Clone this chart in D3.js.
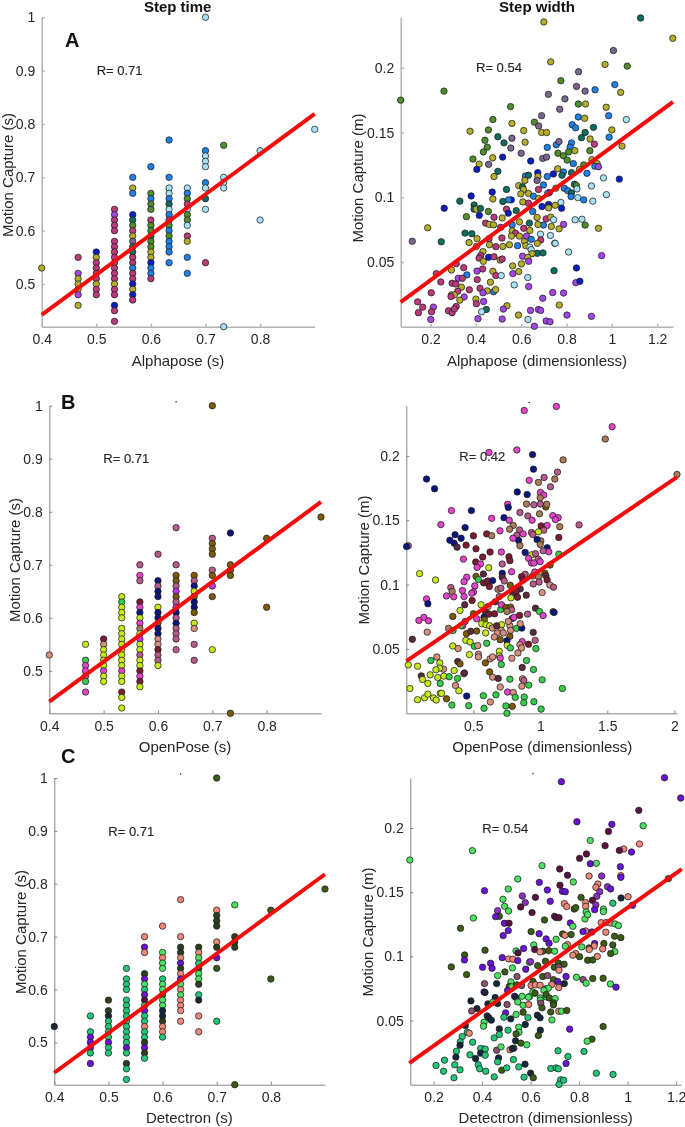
<!DOCTYPE html>
<html>
<head>
<meta charset="utf-8">
<script src="https://cdn.jsdelivr.net/npm/d3@7"></script>
<style>
  html, body { margin: 0; padding: 0; background: #fff; }
  svg { display: block; filter: blur(0.3px); }
  text { font-family: "Liberation Sans", Arial, sans-serif; fill: #262626; }
</style>
</head>
<body>
<svg id="drawing_region"></svg>
<script>
// step time: one row per alphapose/openpose/detectron value -> [x, motion capture values, group letters]
const timeA = [
  [0.4, [.53], "Y"],
  [0.4667, [.55, .52, .51, .50, .49, .48, .46], "RVYYYVY"],
  [0.5, [.56, .55, .54, .53, .52, .51, .50, .49, .48], "NYRRRRYRR"],
  [0.5333, [.64, .63, .62, .61, .60, .58, .57, .56, .55, .54, .53, .52, .51, .50, .49, .48, .46, .45, .43], "RVRRRRRRRRRRRYRRNRR"],
  [0.5667, [.70, .68, .67, .63, .62, .61, .60, .59, .58, .57, .56, .55, .54, .53, .52, .51, .50, .49, .48, .47], "BYBNTGRYPTTRRBRRNYNR"],
  [0.6, [.72, .67, .66, .65, .64, .62, .61, .60, .59, .58, .57, .56, .55, .54, .53, .52, .51], "BGBGGRGGTGGYYNBBR"],
  [0.6333, [.77, .70, .68, .67, .66, .65, .64, .63, .62, .61, .60, .59, .58, .57, .56, .54], "BBLLBTLBRGBGBBBB"],
  [0.6667, [.68, .67, .66, .65, .64, .63, .62, .61, .59, .58, .55, .52], "LBGRLGGLRYBB"],
  [0.7, [1, .75, .74, .73, .72, .69, .68, .66, .64, .54], "LBLLLBLTLR"],
  [0.7333, [.76, .70, .69, .68, .42], "GLLLL"],
  [0.8, [.75, .62], "LL"],
  [0.9, [.79], "L"],
];
const timeB = [
  [0.4, [.53], "S"],
  [0.4667, [.55, .52, .51, .50, .49, .48, .46], "YGMMMGM"],
  [0.5, [.56, .55, .54, .53, .52, .51, .50, .49, .48], "DSYYYYMYY"],
  [0.5333, [.64, .63, .62, .61, .60, .58, .57, .56, .55, .54, .53, .52, .51, .50, .49, .48, .46, .45, .43], "YGYYYYYYYYYYYMYYDYY"],
  [0.5667, [.70, .68, .67, .63, .62, .61, .60, .59, .58, .57, .56, .55, .54, .53, .52, .51, .50, .49, .48, .47], "RMRDMNYMTYVYYRYYDMDY"],
  [0.6, [.72, .67, .66, .65, .64, .62, .61, .60, .59, .58, .57, .56, .55, .54, .53, .52, .51], "RNRNNYNNONNSSDRRY"],
  [0.6333, [.77, .70, .68, .67, .66, .65, .64, .63, .62, .61, .60, .59, .58, .57, .56, .54], "RROORVORVNRNRRRR"],
  [0.6667, [.68, .67, .66, .65, .64, .63, .62, .61, .59, .58, .55, .52], "ORNYONNOYSRR"],
  [0.7, [1, .75, .74, .73, .72, .69, .68, .66, .64, .54], "OROOOROVOY"],
  [0.7333, [.76, .70, .69, .68, .42], "NOOOO"],
  [0.8, [.75, .62], "OO"],
  [0.9, [.79], "O"],
];
const timeC = [
  [0.4, [.53], "N"],
  [0.4667, [.55, .52, .51, .50, .49, .48, .46], "GGVVVGV"],
  [0.5, [.58, .56, .55, .54, .53, .52, .51, .50, .49, .48], "KKNGGGGVGG"],
  [0.5333, [.64, .62, .61, .60, .58, .57, .56, .55, .54, .53, .52, .51, .50, .49, .48, .46, .45, .43], "GGGGGGGGGGGGGVGKGG"],
  [0.5667, [.70, .68, .67, .63, .62, .61, .60, .59, .58, .57, .56, .55, .54, .53, .52, .51, .50, .49, .48, .47], "SVSKVLGVWGVGGSGGKVKG"],
  [0.6, [.72, .67, .66, .65, .64, .62, .61, .60, .59, .58, .57, .56, .55, .54, .53, .52, .51], "SLSLLGLLHLLNNKSSG"],
  [0.6333, [.77, .70, .68, .67, .66, .65, .64, .63, .62, .61, .60, .59, .58, .57, .56, .54], "SSKKSVKSVLSLSSSS"],
  [0.6667, [.68, .67, .66, .65, .64, .63, .62, .61, .59, .58, .55, .52], "KSLGKLLKGNSS"],
  [0.7, [1, .75, .74, .73, .72, .69, .68, .66, .64, .54], "HSKKKSKVHG"],
  [0.7333, [.76, .70, .69, .68, .42], "LKKKH"],
  [0.8, [.75, .62], "HH"],
  [0.9, [.79], "H"],
];

// step width: [pose estimate, motion capture, group]
const widthA = [
  [1.127,.2385,"T"],[1.269,.2228,"Y"],[.70,.2354,"Y"],[1.007,.2133,"P"],[.73,.2046,"Y"],[.97,.2026,"Y"],[1.068,.2013,"G"],[.853,.197,"P"],
  [.068,.175,"G"],[.259,.182,"G"],[.775,.19,"G"],[.844,.1856,"P"],[.882,.182,"P"],[.926,.183,"B"],[1.013,.187,"B"],[1.039,.181,"Y"],
  [.72,.1795,"P"],[.793,.176,"P"],[.852,.172,"G"],[.884,.172,"Y"],[.553,.17,"G"],[.77,.168,"P"],[.975,.1695,"Y"],[.69,.163,"P"],
  [.852,.162,"B"],[.88,.161,"Y"],[.986,.163,"B"],[1.064,.16,"L"],[.475,.16,"G"],[.658,.158,"G"],[.559,.157,"Y"],[.825,.156,"B"],
  [.84,.1536,"B"],[.677,.155,"P"],[.611,.1515,"Y"],[.455,.152,"G"],[.374,.151,"Y"],[.69,.15,"Y"],[.712,.15,"Y"],[.882,.15,"T"],
  [.919,.154,"T"],[1.0,.152,"Y"],[.497,.1467,"T"],[.559,.1456,"P"],[.44,.144,"G"],[.866,.146,"T"],[.904,.145,"Y"],[.988,.1464,"B"],
  [.524,.142,"T"],[.617,.1425,"Y"],[.715,.1385,"B"],[.755,.1405,"B"],[.767,.143,"P"],[.822,.142,"B"],[.45,.1387,"G"],[.554,.138,"P"],
  [.433,.135,"G"],[.816,.1387,"B"],[.837,.136,"Y"],[.809,.135,"G"],[.923,.141,"R"],[.903,.136,"G"],[1.045,.1395,"Y"],[.6,.134,"P"],
  [.762,.134,"G"],[.786,.132,"G"],[.695,.13,"P"],[.712,.131,"P"],[.387,.1295,"G"],[.474,.1305,"Y"],[.518,.131,"N"],[.642,.128,"N"],
  [.803,.1287,"G"],[.414,.1256,"Y"],[.456,.1254,"P"],[.83,.126,"B"],[.912,.129,"Y"],[.935,.126,"Y"],[.404,.1215,"N"],[.761,.122,"Y"],
  [.876,.125,"G"],[.925,.124,"B"],[.941,.1236,"V"],[.497,.12,"T"],[.673,.119,"N"],[.48,.116,"Y"],[.715,.116,"B"],[.742,.118,"N"],
  [.619,.1164,"B"],[.632,.117,"T"],[.674,.116,"Y"],[.786,.1195,"B"],[.78,.117,"T"],[.822,.119,"T"],[.857,.1215,"Y"],[.89,.1185,"B"],
  [.963,.115,"L"],[1.033,.114,"N"],[.616,.113,"Y"],[.67,.113,"P"],[.698,.1095,"B"],[.589,.109,"Y"],[.606,.108,"T"],[.835,.11,"T"],
  [.844,.109,"G"],[.753,.107,"Y"],[.91,.1087,"L"],[.79,.107,"B"],[.806,.105,"B"],[.846,.1064,"L"],[.472,.104,"N"],[.535,.106,"T"],
  [.61,.106,"Y"],[.632,.103,"Y"],[.676,.106,"R"],[.379,.101,"N"],[.475,.0987,"Y"],[.724,.1036,"N"],[.717,.103,"B"],[.654,.1008,"B"],
  [.598,.1026,"Y"],[.556,.098,"N"],[.544,.098,"B"],[.519,.0967,"T"],[.677,.099,"Y"],[.822,.1033,"T"],[.82,.1005,"B"],[.85,.0997,"L"],
  [.876,.098,"B"],[.916,.097,"L"],[.976,.102,"L"],[.392,.094,"T"],[.607,.0964,"Y"],[.632,.0954,"R"],[.721,.0944,"N"],[.692,.0928,"N"],
  [.775,.096,"L"],[.778,.0915,"N"],[.392,.0908,"T"],[.402,.0908,"Y"],[.42,.0913,"T"],[.535,.0908,"R"],[.578,.0897,"T"],[.721,.0918,"Y"],
  [.75,.0938,"Y"],[.329,.097,"T"],[.26,.0915,"N"],[.415,.086,"N"],[.455,.089,"G"],[.543,.0877,"N"],[.358,.085,"G"],[.651,.089,"B"],
  [.516,.084,"Y"],[.48,.0846,"R"],[.838,.0826,"L"],[.868,.083,"L"],[.67,.0844,"Y"],[.71,.0833,"R"],[.73,.0846,"Y"],[.743,.0826,"L"],
  [.443,.08,"R"],[.46,.079,"Y"],[.478,.0787,"Y"],[.592,.081,"Y"],[.636,.08,"T"],[.698,.0785,"B"],[.674,.079,"Y"],[.787,.079,"V"],
  [.733,.0774,"Y"],[.882,.0785,"G"],[.941,.076,"Y"],[.767,.0756,"Y"],[.187,.0764,"Y"],[.509,.0767,"R"],[.56,.0787,"B"],[.352,.0723,"T"],
  [.382,.0718,"T"],[.56,.074,"Y"],[.638,.0744,"Y"],[.611,.076,"R"],[.575,.0723,"R"],[.119,.066,"P"],[.247,.0656,"T"],[.405,.068,"Y"],
  [.37,.065,"Y"],[.458,.068,"R"],[.515,.0685,"R"],[.557,.07,"Y"],[.592,.07,"Y"],[.729,.0705,"L"],[.685,.0715,"L"],[.686,.067,"R"],
  [.748,.0644,"T"],[.75,.0644,"L"],[.614,.066,"Y"],[.623,.07,"V"],[.644,.0675,"B"],[.671,.0644,"Y"],[.46,.0633,"Y"],[.488,.0618,"R"],
  [.519,.062,"Y"],[.548,.0633,"Y"],[.584,.0626,"B"],[.62,.0626,"Y"],[.638,.0615,"L"],[.402,.062,"Y"],[.644,.0595,"L"],[.431,.058,"Y"],
  [.809,.0577,"L"],[.671,.0567,"T"],[.696,.057,"T"],[.648,.0564,"Y"],[.421,.055,"R"],[.414,.053,"R"],[.433,.0505,"Y"],[.456,.0536,"N"],
  [.48,.054,"R"],[.507,.0515,"Y"],[.516,.0523,"R"],[.606,.0544,"V"],[.629,.0536,"Y"],[.633,.0505,"V"],[.955,.0549,"V"],[.313,.0487,"R"],
  [.346,.0456,"R"],[.292,.0438,"Y"],[.562,.047,"Y"],[.601,.0485,"Y"],[.43,.0446,"R"],[.225,.041,"R"],[.405,.043,"V"],[.475,.0428,"Y"],
  [.488,.0395,"R"],[.36,.04,"B"],[.322,.0374,"V"],[.34,.0374,"R"],[.563,.041,"V"],[.589,.0426,"Y"],[.745,.0433,"T"],[.844,.0454,"N"],
  [.512,.0395,"L"],[.629,.038,"L"],[.245,.0346,"R"],[.406,.0364,"R"],[.464,.0344,"Y"],[.295,.0336,"R"],[.311,.033,"R"],[.336,.0305,"Y"],
  [.371,.0285,"R"],[.418,.0297,"R"],[.569,.0323,"L"],[.633,.031,"V"],[.841,.034,"V"],[.859,.0351,"N"],[.203,.0262,"R"],[.32,.0274,"R"],
  [.292,.0246,"Y"],[.305,.0246,"Y"],[.29,.0233,"R"],[.348,.023,"V"],[.45,.0277,"Y"],[.431,.0262,"V"],[.478,.027,"B"],[.487,.0287,"Y"],
  [.695,.022,"V"],[.739,.0264,"V"],[.787,.026,"V"],[.4,.0213,"Y"],[.329,.0205,"Y"],[.434,.0195,"V"],[.402,.0177,"R"],[.143,.0192,"R"],
  [.165,.0151,"R"],[.313,.0156,"R"],[.212,.0151,"V"],[.537,.0162,"Y"],[.521,.0136,"V"],[.768,.0167,"Y"],[.279,.0123,"R"],[.295,.0108,"R"],
  [.305,.0138,"R"],[.146,.0108,"R"],[.204,.0115,"R"],[.446,.0133,"T"],[.425,.0115,"L"],[.588,.009,"Y"],[.641,.0126,"V"],[.676,.0133,"V"],
  [.686,.0126,"V"],[.802,.009,"V"],[.91,.008,"V"],[.201,.0056,"V"],[.409,.0062,"V"],[.516,.0059,"V"],[.63,.0056,"L"],[.71,.0044,"V"],
  [.727,.0038,"V"],[.658,.0003,"V"],
];
const widthB = [
  [1.12,.2384,"M"],[.88,.2353,"M"],[1.536,.2227,"M"],[1.485,.2131,"T"],[.617,.2026,"M"],[.825,.2046,"M"],[.942,.201,"N"],[1.17,.1969,"T"],
  [.949,.1897,"N"],[2.02,.1856,"T"],[1.128,.1874,"R"],[.151,.182,"N"],[.211,.1745,"N"],[.917,.181,"M"],[.986,.1794,"T"],[1.028,.1832,"R"],
  [1.108,.182,"T"],[.828,.172,"N"],[.902,.17,"N"],[1.076,.176,"R"],[1.001,.1716,"M"],[1.026,.1696,"M"],[.999,.1675,"T"],[.486,.1575,"N"],
  [.337,.1575,"M"],[.756,.1624,"M"],[.761,.16,"N"],[.897,.1626,"T"],[.952,.162,"R"],[1.001,.1626,"R"],[1.041,.1603,"O"],[1.048,.1624,"T"],
  [.848,.156,"R"],[.994,.155,"T"],[.637,.1515,"M"],[.729,.152,"N"],[.768,.15,"M"],[.907,.1534,"R"],[.939,.15,"M"],[1.093,.1536,"M"],
  [1.133,.152,"M"],[1.113,.1505,"M"],[.258,.1466,"M"],[.439,.1443,"N"],[1.289,.1464,"R"],[1.051,.146,"M"],[1.145,.145,"T"],[1.006,.1456,"D"],
  [1.026,.1423,"R"],[.798,.146,"T"],[.771,.143,"T"],[.699,.1418,"M"],[.845,.1425,"R"],[.825,.1384,"R"],[.872,.1394,"M"],[.6,.1394,"D"],
  [.637,.138,"T"],[.501,.1379,"D"],[.364,.1387,"N"],[.325,.1345,"N"],[.409,.136,"N"],[.357,.1322,"N"],[.379,.1291,"A"],[.446,.1307,"D"],
  [.015,.1302,"R"],[.002,.1296,"N"],[.838,.1343,"N"],[.796,.136,"M"],[.934,.1405,"R"],[.944,.1389,"R"],[.986,.141,"Y"],[1.004,.134,"T"],
  [.976,.135,"N"],[.999,.1312,"T"],[.848,.1302,"T"],[1.138,.1366,"D"],[1.051,.1286,"N"],[.52,.1278,"D"],[.887,.125,"N"],[1.063,.1255,"M"],
  [1.021,.1263,"R"],[.709,.1253,"M"],[.625,.1253,"D"],[.766,.1216,"D"],[1.138,.1237,"G"],[.937,.1232,"Y"],[.964,.124,"R"],[.912,.1204,"M"],
  [.984,.1198,"R"],[.57,.1214,"D"],[.426,.1198,"M"],[.518,.1175,"D"],[.553,.116,"M"],[.999,.1178,"M"],[.934,.1168,"M"],[.952,.1168,"M"],
  [.773,.1186,"D"],[.716,.116,"R"],[1.073,.1152,"O"],[.099,.1085,"Y"],[.528,.1134,"M"],[.615,.1131,"Y"],[.786,.11,"M"],[.716,.1088,"N"],
  [.575,.1082,"A"],[.451,.1057,"M"],[.52,.1064,"O"],[.887,.108,"R"],[.218,.1036,"Y"],[.538,.1039,"G"],[.431,.1023,"M"],[.577,.1013,"D"],
  [.607,.1028,"D"],[.644,.1031,"N"],[.716,.1057,"A"],[.731,.1028,"R"],[.86,.1062,"D"],[.87,.1036,"D"],[.942,.1067,"T"],[.986,.1062,"T"],
  [.959,.1098,"M"],[1.033,.1088,"O"],[1.041,.107,"A"],[1.051,.1036,"D"],[1.071,.0997,"S"],[.991,.102,"R"],[.947,.1005,"R"],[1.098,.098,"R"],
  [1.014,.0938,"S"],[.332,.0977,"R"],[.419,.0954,"M"],[.342,.0946,"T"],[.3,.0912,"M"],[.354,.0905,"M"],[.511,.099,"M"],[.501,.0943,"M"],
  [.488,.0933,"M"],[.431,.0907,"M"],[.151,.0889,"M"],[.161,.0851,"N"],[.491,.0876,"D"],[.436,.0843,"A"],[.094,.0722,"M"],[.131,.0745,"M"],
  [.166,.0719,"M"],[.62,.0985,"D"],[.684,.0964,"T"],[.706,.0972,"R"],[.776,.0995,"O"],[.85,.0967,"A"],[.796,.0925,"A"],[.82,.0946,"D"],
  [.694,.0907,"R"],[.558,.0843,"Y"],[.664,.0866,"A"],[.781,.0897,"Y"],[.83,.0902,"D"],[.895,.0918,"A"],[.964,.0817,"A"],[.905,.0771,"R"],
  [.994,.0791,"G"],[1.021,.076,"M"],[1.095,.0789,"O"],[1.103,.0784,"N"],[.401,.0799,"Y"],[.347,.0753,"O"],[.501,.0773,"O"],[.525,.0735,"M"],
  [.58,.0747,"N"],[.59,.0791,"A"],[.617,.0771,"D"],[.659,.0773,"D"],[.704,.0807,"G"],[.711,.0843,"M"],[.743,.0822,"O"],[.778,.0825,"O"],
  [.786,.0804,"R"],[.751,.0791,"T"],[.791,.0737,"D"],[.803,.0745,"M"],[.845,.076,"D"],[.61,.083,"S"],[.439,.0714,"M"],[.421,.068,"M"],
  [.582,.0727,"O"],[.563,.0696,"Y"],[.595,.0688,"Y"],[.622,.068,"Y"],[.711,.0688,"Y"],[.823,.066,"G"],[.862,.0662,"N"],[.85,.0696,"S"],
  [.773,.068,"S"],[.761,.0714,"S"],[.592,.0624,"Y"],[.642,.0662,"S"],[.674,.068,"A"],[.709,.0644,"S"],[.679,.0624,"S"],[.657,.0593,"S"],
  [.724,.0624,"S"],[.778,.0644,"S"],[.773,.0598,"O"],[.701,.0572,"O"],[.751,.0564,"N"],[.315,.066,"T"],[.349,.0644,"G"],[.156,.0631,"S"],
  [.045,.0575,"A"],[.947,.0629,"A"],[.449,.0619,"O"],[.481,.0637,"A"],[.525,.0639,"O"],[.409,.068,"G"],[.962,.0567,"R"],[.865,.0557,"M"],
  [.444,.0567,"Y"],[.476,.0554,"Y"],[.753,.0528,"Y"],[.776,.0508,"G"],[.848,.0534,"S"],[.912,.0536,"D"],[.347,.0523,"Y"],[.387,.0503,"S"],
  [.508,.0521,"G"],[.533,.0526,"S"],[.6,.0544,"G"],[.694,.0482,"Y"],[.967,.0503,"G"],[.86,.0508,"S"],[.833,.0469,"S"],[.788,.0428,"S"],
  [.538,.0459,"S"],[.538,.0438,"S"],[.471,.0456,"Y"],[.694,.0446,"Y"],[.701,.043,"M"],[.625,.0423,"S"],[.644,.0438,"S"],[.59,.0392,"O"],
  [.897,.041,"G"],[.384,.0402,"A"],[.401,.0384,"O"],[.228,.0438,"S"],[.183,.041,"G"],[.25,.0392,"Y"],[.015,.0376,"Y"],[.084,.0366,"Y"],
  [.865,.0356,"A"],[.709,.0379,"G"],[.949,.034,"G"],[.278,.0343,"S"],[.248,.0351,"Y"],[.221,.0338,"Y"],[.357,.0332,"Y"],[.112,.0291,"A"],
  [.178,.0299,"Y"],[.121,.0263,"Y"],[.235,.0278,"Y"],[.28,.0289,"Y"],[.32,.0284,"G"],[.161,.0232,"Y"],[.253,.0232,"G"],[.429,.0307,"S"],
  [.434,.0314,"A"],[.382,.0271,"G"],[.622,.0322,"O"],[.644,.0281,"S"],[.686,.0271,"A"],[.773,.0265,"G"],[.867,.0268,"S"],[.877,.0255,"R"],
  [1.014,.026,"G"],[.914,.0219,"G"],[.862,.0211,"S"],[.701,.0204,"S"],[.756,.0165,"M"],[.798,.0162,"S"],[.367,.0216,"S"],[.392,.0175,"Y"],
  [1.165,.0193,"G"],[.027,.0193,"Y"],[.084,.0106,"Y"],[.136,.0121,"Y"],[.161,.0149,"Y"],[.203,.0119,"Y"],[.223,.0103,"Y"],[.253,.0155,"Y"],
  [.263,.0155,"Y"],[.451,.0134,"N"],[.3,.0113,"O"],[.575,.0137,"G"],[.669,.0144,"G"],[.88,.0126,"G"],[.813,.0124,"G"],[.952,.009,"G"],
  [.34,.0064,"G"],[.466,.0059,"G"],[.627,.0088,"S"],[.877,.0082,"G"],[.743,.0057,"G"],[.791,.0054,"O"],[.58,.0039,"G"],[1.006,.0033,"G"],
  [.751,0,"G"],
];
const widthC = [
  [1.152,.2392,"V"],[.727,.2361,"V"],[1.219,.2234,"V"],[1.046,.2138,"W"],[.791,.2049,"V"],[.935,.2029,"V"],[1.064,.2018,"L"],[.921,.1974,"W"],
  [.846,.1904,"L"],[.907,.1863,"W"],[1.049,.1876,"S"],[.984,.1837,"S"],[.966,.1826,"W"],[1.016,.1813,"V"],[.36,.1824,"L"],[.102,.1751,"L"],
  [.802,.1764,"W"],[.83,.1798,"W"],[.871,.1725,"L"],[.846,.1722,"V"],[.97,.1699,"V"],[.647,.1707,"L"],[.72,.1681,"W"],[.752,.1632,"W"],
  [.547,.1603,"L"],[.841,.1626,"S"],[.893,.1626,"P"],[.972,.1629,"S"],[.972,.1616,"V"],[1.168,.1606,"H"],[.636,.1577,"V"],[.776,.158,"L"],
  [.508,.1525,"L"],[.721,.1554,"W"],[.877,.1564,"S"],[.869,.1538,"S"],[.917,.1543,"P"],[.93,.1525,"V"],[.62,.146,"W"],[.669,.1517,"V"],
  [.41,.1512,"V"],[.731,.1507,"V"],[.743,.1504,"V"],[.566,.1471,"P"],[.808,.146,"H"],[.885,.1504,"P"],[.873,.1468,"P"],[.855,.1437,"W"],
  [1.002,.1465,"S"],[.973,.1455,"N"],[.681,.1429,"V"],[.578,.1419,"P"],[.559,.1385,"W"],[.486,.1445,"L"],[.493,.139,"L"],[.509,.1354,"L"],
  [.739,.1411,"S"],[.749,.1388,"S"],[.78,.1369,"H"],[.786,.138,"H"],[.827,.1419,"S"],[.827,.139,"S"],[.869,.1401,"P"],[.864,.1364,"V"],
  [.9,.1369,"L"],[.9,.1349,"L"],[.939,.1414,"G"],[1.02,.1398,"V"],[.606,.1341,"W"],[.699,.1312,"W"],[.706,.1302,"W"],[.717,.1302,"W"],
  [.464,.1356,"P"],[.471,.1312,"H"],[.456,.131,"V"],[.364,.1299,"L"],[.829,.1346,"L"],[.824,.1292,"L"],[.835,.1325,"L"],[.657,.1284,"H"],
  [.492,.1258,"V"],[.511,.1258,"W"],[.764,.126,"V"],[.774,.1234,"L"],[.891,.1263,"S"],[.911,.1263,"S"],[.93,.126,"S"],[.948,.1253,"L"],
  [.962,.124,"L"],[.827,.1198,"S"],[.91,.1188,"S"],[.816,.1193,"V"],[.853,.119,"V"],[.311,.1219,"H"],[.508,.1201,"V"],[.487,.1162,"V"],
  [.602,.1193,"H"],[.635,.1177,"V"],[.664,.1136,"V"],[.705,.1133,"L"],[.732,.1175,"H"],[.742,.1164,"S"],[.767,.117,"H"],[.676,.1102,"V"],
  [.946,.1157,"H"],[.972,.1146,"H"],[.613,.1089,"L"],[.752,.1092,"S"],[.743,.1079,"L"],[.864,.11,"V"],[.862,.1081,"S"],[.902,.11,"H"],
  [.939,.1089,"H"],[.841,.1066,"H"],[.811,.1074,"L"],[.842,.1053,"S"],[.617,.1053,"W"],[.65,.104,"H"],[.639,.1035,"S"],[.675,.1045,"H"],
  [.699,.104,"L"],[.947,.1037,"L"],[.93,.1022,"H"],[.897,.1058,"S"],[.412,.1048,"H"],[.54,.1042,"L"],[.548,.1027,"W"],[.571,.1061,"V"],
  [.328,.1011,"H"],[.483,.099,"V"],[.509,.098,"S"],[.527,.0978,"S"],[.547,.0967,"V"],[.786,.1022,"S"],[.774,.1009,"S"],[.802,.0998,"H"],
  [.835,.097,"H"],[.856,.0972,"H"],[.875,.1,"S"],[.327,.0972,"V"],[.273,.0918,"H"],[.435,.0946,"V"],[.402,.0915,"V"],[.441,.0907,"V"],
  [.525,.091,"L"],[.494,.0879,"H"],[.58,.09,"V"],[.595,.0954,"L"],[.6,.0959,"P"],[.629,.0928,"H"],[.661,.0962,"H"],[.714,.0949,"H"],
  [.738,.0939,"H"],[.698,.0915,"H"],[.716,.0918,"M"],[.717,.0892,"S"],[.336,.0858,"H"],[.464,.085,"L"],[.46,.0788,"N"],[.544,.0843,"M"],
  [.41,.0788,"M"],[.789,.0837,"L"],[.816,.0819,"M"],[.746,.0843,"V"],[.829,.0791,"L"],[.856,.0827,"H"],[.899,.083,"H"],[.929,.0785,"L"],
  [.952,.076,"V"],[.65,.0843,"H"],[.67,.085,"M"],[.694,.0819,"H"],[.712,.0804,"V"],[.719,.078,"V"],[.739,.0788,"N"],[.61,.0804,"H"],
  [.519,.0801,"L"],[.512,.0765,"H"],[.522,.0762,"L"],[.543,.0778,"H"],[.563,.0773,"M"],[.602,.0773,"S"],[.62,.0778,"S"],[.639,.0775,"S"],
  [.662,.0747,"V"],[.687,.078,"S"],[.716,.0757,"S"],[.673,.0752,"L"],[.655,.0736,"L"],[.408,.0723,"V"],[.412,.0718,"N"],[.354,.0653,"N"],
  [.454,.0679,"N"],[.424,.063,"N"],[.464,.0632,"N"],[.445,.0643,"L"],[.534,.0689,"V"],[.505,.0734,"V"],[.538,.0682,"N"],[.547,.0645,"L"],
  [.565,.0689,"L"],[.569,.0619,"L"],[.596,.0687,"L"],[.591,.0682,"L"],[.609,.0721,"L"],[.618,.0713,"H"],[.64,.0676,"L"],[.64,.0658,"L"],
  [.664,.0684,"L"],[.664,.0702,"H"],[.677,.0676,"H"],[.701,.0671,"L"],[.694,.0638,"H"],[.694,.0622,"H"],[.592,.0625,"S"],[.642,.0635,"M"],
  [.647,.0599,"H"],[.716,.0573,"S"],[.727,.0573,"L"],[.749,.0578,"H"],[.379,.0593,"N"],[.357,.0575,"M"],[.503,.0625,"M"],[.497,.056,"V"],
  [.49,.0526,"G"],[.518,.0513,"N"],[.54,.0547,"L"],[.569,.0565,"H"],[.589,.0523,"G"],[.578,.0469,"N"],[.628,.0542,"N"],[.639,.0521,"N"],
  [.688,.0505,"L"],[.683,.0567,"H"],[.421,.0536,"N"],[.428,.0521,"N"],[.438,.0503,"N"],[.408,.0487,"L"],[.406,.0456,"L"],[.761,.0433,"V"],
  [.471,.0435,"N"],[.507,.0425,"G"],[.551,.0448,"L"],[.552,.0409,"L"],[.64,.0425,"N"],[.632,.0383,"H"],[.331,.0461,"N"],[.899,.0453,"H"],
  [.853,.0355,"H"],[.833,.0339,"L"],[.339,.0409,"G"],[.347,.0401,"S"],[.318,.0375,"G"],[.31,.0334,"G"],[.309,.0308,"N"],[.361,.0331,"G"],
  [.45,.0365,"G"],[.471,.0391,"G"],[.54,.0396,"H"],[.538,.0342,"N"],[.56,.0324,"H"],[.584,.0311,"L"],[.46,.0269,"M"],[.478,.0295,"L"],
  [.531,.0285,"M"],[.515,.0272,"S"],[.525,.0282,"N"],[.406,.0277,"G"],[.394,.0282,"G"],[.413,.0277,"G"],[.294,.0261,"G"],[.35,.0233,"G"],
  [.292,.0215,"N"],[.373,.0204,"N"],[.394,.0246,"N"],[.413,.023,"G"],[.468,.0209,"N"],[.464,.0178,"G"],[.713,.0264,"G"],[.754,.022,"G"],
  [.82,.0259,"G"],[.529,.0196,"G"],[.746,.0165,"V"],[.577,.016,"N"],[.245,.0191,"G"],[.21,.015,"G"],[.287,.0155,"G"],[.384,.0155,"G"],
  [.39,.0124,"G"],[.309,.0116,"G"],[.241,.0105,"G"],[.415,.0105,"G"],[.481,.0113,"H"],[.501,.0131,"G"],[.551,.0139,"G"],[.683,.0126,"G"],
  [.705,.0131,"G"],[.714,.0124,"G"],[.6,.009,"N"],[.611,.0054,"H"],[.871,.009,"G"],[.94,.008,"G"],[.284,.0054,"G"],[.45,.0061,"G"],
  [.573,.0059,"G"],[.724,.0038,"G"],[.736,.0035,"G"],[.717,.0002,"G"],
];

// fit lines: [x0, y0, x1, y1]
const fitTimeA = [0.4, 0.442, 0.9, 0.819];
const fitTimeB = [0.4, 0.442, 0.9, 0.8185];
const fitTimeC = [0.4, 0.4426, 0.9, 0.818];
const fitWidthA = [0.068, 0.019, 1.27, 0.1736];
const fitWidthB = [0, 0.0405, 2.02, 0.1835];
const fitWidthC = [0.1, 0.0168, 1.223, 0.168];

const timeXTicks = [0.4, 0.5, 0.6, 0.7, 0.8];
const timeYTicks = [0.5, 0.6, 0.7, 0.8, 0.9, 1];
const widthYTicks = [0.05, 0.1, 0.15, 0.2];
const widthXTicksA = [0.2, 0.4, 0.6, 0.8, 1, 1.2];
const widthXTicksB = [0.5, 1, 1.5, 2];
const widthXTicksC = [0.2, 0.4, 0.6, 0.8, 1, 1.2];

const paletteA = { L: "#a8e2f4", B: "#1f80e8", N: "#0a1ec8", T: "#0f6e60", G: "#4e8f2c", Y: "#b5ae2a", P: "#7a6690", R: "#bb3a7c", V: "#a545ea" };
const paletteB = { Y: "#c8ea1c", G: "#36cc4c", M: "#e444cc", R: "#b85a8c", N: "#0a1680", D: "#7c1c30", A: "#5a2a40", S: "#d8917e", O: "#7c5a06", T: "#a87c58", V: "#c232f0" };
const paletteC = { G: "#20c878", L: "#4ce262", H: "#3a5c14", K: "#2b3f20", N: "#14283a", V: "#6a12d8", P: "#8a30c0", W: "#5a1040", S: "#f08878", M: "#885070" };

const flattenColumns = columns => columns.flatMap(([x, ys, groups]) => ys.map((y, i) => [x, y, groups[i]]));

class ScatterPanel {
  constructor( config, data ) {
    this.config = config;
    this.data = data;
    this.init();
  }

  init() {
    let self = this;
    const c = self.config;
    self.xscale = d3.scaleLinear().domain(c.xdomain).range([c.left, c.right]);
    self.yscale = d3.scaleLinear().domain(c.ydomain).range([c.bottom, c.top]);
    self.svg = d3.select('#drawing_region');
    self.render();
  }

  render() {
    let self = this;
    const c = self.config;

    const xaxis = d3.axisBottom(self.xscale)
      .tickValues(c.xticks).tickFormat(d3.format("~g"))
      .tickSizeInner(-3).tickSizeOuter(0).tickPadding(7.5);
    const yaxis = d3.axisLeft(self.yscale)
      .tickValues(c.yticks).tickFormat(d3.format("~g"))
      .tickSizeInner(-3).tickSizeOuter(0).tickPadding(6.5);

    [[xaxis, `translate(0, ${c.bottom})`], [yaxis, `translate(${c.left}, 0)`]].forEach(([axis, tr]) => {
      const g = self.svg.append('g').attr('transform', tr).call(axis);
      g.selectAll('path, line').attr('stroke', c.axisColor).attr('stroke-width', c.axisWidth);
      g.selectAll('text').attr('font-size', 14).attr('fill', '#262626')
        .style('font-family', '"Liberation Sans", Arial, sans-serif');
    });

    self.svg.append('g').selectAll('circle')
      .data(self.data)
      .enter()
      .append('circle')
      .attr('cx', d => self.xscale(d[0]))
      .attr('cy', d => self.yscale(d[1]))
      .attr('r', 3.2)
      .attr('fill', d => c.palette[d[2]])
      .attr('stroke', '#1c1c1c')
      .attr('stroke-width', 0.75);

    if (c.stray) {
      self.svg.append('circle')
        .attr('cx', self.xscale(c.stray[0]))
        .attr('cy', self.yscale(c.stray[1]))
        .attr('r', 0.8).attr('fill', '#222');
    }

    const line = d3.line().x(d => self.xscale(d[0])).y(d => self.yscale(d[1]));
    self.svg.append('path')
      .attr('d', line([[c.fit[0], c.fit[1]], [c.fit[2], c.fit[3]]]))
      .attr('stroke', '#f40a0a')
      .attr('stroke-width', 4)
      .attr('fill', 'none');

    self.svg.append('text').attr('x', c.rPos[0]).attr('y', c.rPos[1])
      .attr('font-size', 13).attr('stroke', '#262626').attr('stroke-width', 0.15)
      .text(c.rText);

    self.svg.append('text').attr('x', c.xlabelPos[0]).attr('y', c.xlabelPos[1])
      .attr('text-anchor', 'middle').attr('font-size', 15)
      .text(c.xlabel);

    self.svg.append('text')
      .attr('transform', `translate(${c.ylabelPos[0]}, ${c.ylabelPos[1]}) rotate(-90)`)
      .attr('text-anchor', 'middle').attr('font-size', 15)
      .text(c.ylabel);
  }
}

d3.select('#drawing_region').attr('width', 685).attr('height', 1127);

const faint = { axisColor: '#b4b4b4', axisWidth: 1.5 };
const thin = { axisColor: '#858585', axisWidth: 1 };
const timeShared = { xdomain: [0.4, 0.9], ydomain: [0.42, 1], xticks: timeXTicks, yticks: timeYTicks, ylabel: 'Motion Capture (s)' };
const widthShared = { ydomain: [0, 0.239], yticks: widthYTicks, ylabel: 'Motion Capture (m)' };

new ScatterPanel({ ...timeShared, ...faint, left: 41.7, right: 314.7, top: 17.3, bottom: 326.7, palette: paletteA, fit: fitTimeA,
  rText: 'R= 0.71', rPos: [96.7, 75], xlabel: 'Alphapose (s)', xlabelPos: [178, 365.7], ylabelPos: [12.5, 175] }, flattenColumns(timeA));
new ScatterPanel({ ...widthShared, ...faint, xdomain: [0.068, 1.27], xticks: widthXTicksA, left: 400.7, right: 673, top: 17.3, bottom: 326.7, palette: paletteA, fit: fitWidthA,
  rText: 'R= 0.54', rPos: [476, 72], xlabel: 'Alphapose (dimensionless)', xlabelPos: [537, 365.7], ylabelPos: [363, 178] }, widthA);

new ScatterPanel({ ...timeShared, ...thin, left: 49.3, right: 321, top: 405.7, bottom: 713.3, palette: paletteB, fit: fitTimeB, stray: [0.6333, 1.0075],
  rText: 'R= 0.71', rPos: [103.3, 463], xlabel: 'OpenPose (s)', xlabelPos: [185, 751.7], ylabelPos: [20, 560] }, flattenColumns(timeB));
new ScatterPanel({ ...widthShared, ...thin, xdomain: [0, 2.02], xticks: widthXTicksB, left: 406.3, right: 677, top: 405.7, bottom: 713.3, palette: paletteB, fit: fitWidthB, stray: [0.917, 0.2415],
  rText: 'R= 0.42', rPos: [459.3, 461], xlabel: 'OpenPose (dimensionless)', xlabelPos: [542.3, 751.7], ylabelPos: [369, 560] }, widthB);

new ScatterPanel({ ...timeShared, ...thin, left: 54.3, right: 325, top: 778, bottom: 1084.7, palette: paletteC, fit: fitTimeC, stray: [0.6333, 1.0076],
  rText: 'R= 0.71', rPos: [108.3, 836], xlabel: 'Detectron (s)', xlabelPos: [189.3, 1122.7], ylabelPos: [25.5, 932] }, flattenColumns(timeC));
new ScatterPanel({ ...widthShared, ...thin, xdomain: [0.104, 1.22], xticks: widthXTicksC, left: 410.3, right: 681, top: 778, bottom: 1084.7, palette: paletteC, fit: fitWidthC, stray: [0.61, 0.2423],
  rText: 'R= 0.54', rPos: [482.3, 833], xlabel: 'Detectron (dimensionless)', xlabelPos: [545.7, 1122.7], ylabelPos: [373, 932] }, widthC);

// column titles and panel letters
const svg = d3.select('#drawing_region');
[['Step time', 177.7], ['Step width', 537]].forEach(([t, x]) => {
  svg.append('text').attr('x', x).attr('y', 11.5).attr('text-anchor', 'middle')
    .attr('font-size', 15).attr('font-weight', 'bold').attr('fill', '#111').style('fill', '#111').text(t);
});
[['A', 65, 46.7], ['B', 61, 409], ['C', 61, 763]].forEach(([t, x, y]) => {
  svg.append('text').attr('x', x).attr('y', y)
    .attr('font-size', 20).attr('font-weight', 'bold').style('fill', '#111').text(t);
});
</script>
</body>
</html>
